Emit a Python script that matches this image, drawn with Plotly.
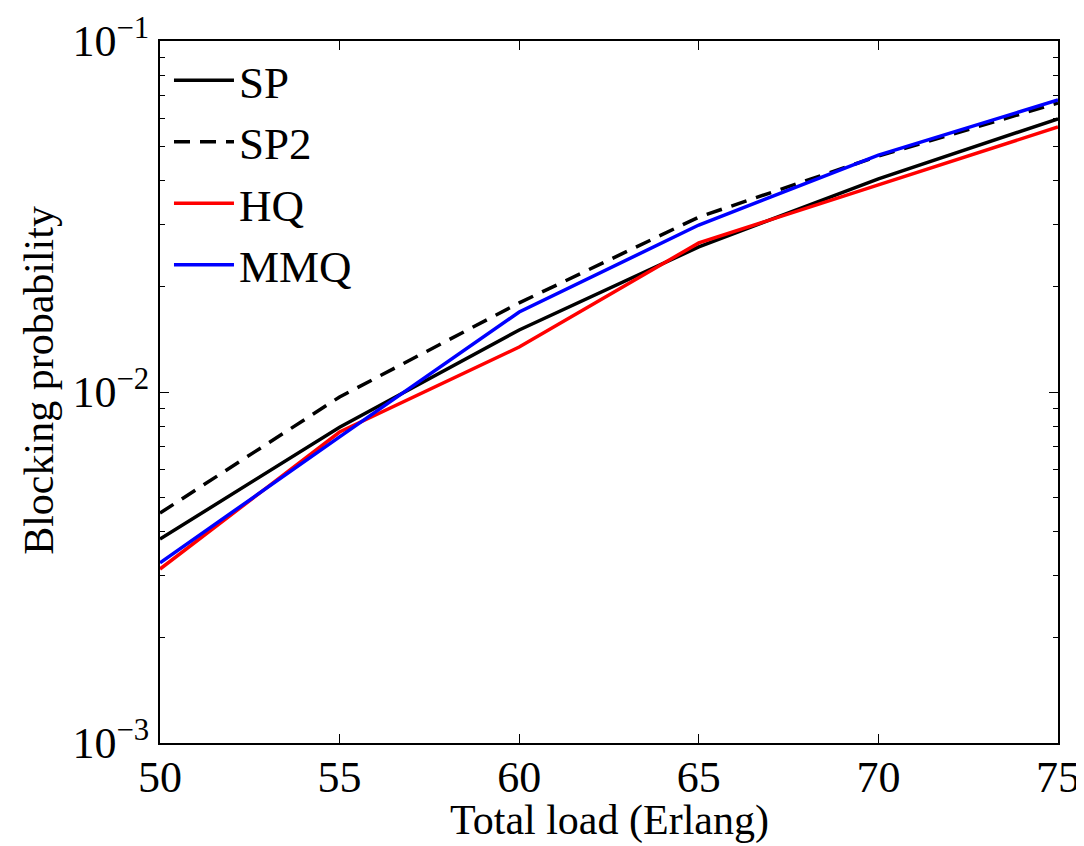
import plotly.graph_objects as go

# Total load (Erlang) vs blocking probability
load = [50, 55, 60, 65, 70, 75]
sp = [0.00381, 0.00794, 0.01502, 0.0259, 0.0405, 0.0600]
sp2 = [0.00452, 0.00968, 0.01794, 0.0315, 0.0470, 0.0666]
hq = [0.00313, 0.00769, 0.01343, 0.0266, 0.0389, 0.0569]
mmq = [0.00326, 0.00745, 0.0169, 0.0299, 0.0473, 0.0679]

y_ticks = [0.001, 0.01, 0.1]
y_exponents = ["−3", "−2", "−1"]

FONT = "Liberation Serif"

fig = go.Figure()
for name, ys, color, dash in [
    ("SP", sp, "black", "solid"),
    ("SP2", sp2, "black", "16px,10px"),
    ("HQ", hq, "red", "solid"),
    ("MMQ", mmq, "blue", "solid"),
]:
    fig.add_trace(go.Scatter(x=load, y=ys, mode="lines", name=name,
                             line=dict(color=color, width=3.5, dash=dash)))

axis_common = dict(
    showline=True, linecolor="black", linewidth=2, mirror="ticks",
    ticks="inside", tickcolor="black", tickwidth=1,
    showgrid=False, zeroline=False, automargin=False,
    ticklabeloverflow="allow",
)

y_text = ["10<sup>%s</sup>" % e for e in y_exponents]

# the page body adds ~8px of offset, so the figure is sized to fit inside it
fig.update_layout(
    width=1076, height=838,
    margin=dict(l=152, r=26, t=33, b=103),
    paper_bgcolor="white", plot_bgcolor="white",
    font=dict(family=FONT, color="black"),
    showlegend=True,
    legend=dict(x=0.01, y=0.995, xanchor="left", yanchor="top",
                bgcolor="rgba(0,0,0,0)", font=dict(family=FONT, size=45),
                tracegroupgap=0, itemwidth=60),
    xaxis=dict(range=[50, 75], tickvals=load, ticklen=9,
               ticklabelstandoff=-6,
               tickfont=dict(family=FONT, size=44, color="black"),
               **axis_common),
    yaxis=dict(
        type="log", range=[-3, -1], ticklen=9,
        tickvals=y_ticks, ticktext=y_text,
        tickfont=dict(family=FONT, size=44, color="black"),
        minor=dict(ticks="inside", ticklen=5, dtick="D1", tickcolor="black"),
        **axis_common,
    ),
    annotations=[
        dict(text="Total load (Erlang)", xref="paper", yref="paper",
             x=0.501, y=-0.11, xanchor="center", yanchor="middle",
             showarrow=False, font=dict(family=FONT, size=42)),
        dict(text="Blocking probability", xref="paper", yref="paper",
             x=-0.135, y=0.517, xanchor="center", yanchor="middle",
             textangle=-90, showarrow=False, font=dict(family=FONT, size=42)),
    ],
)

fig.write_html("out.html")
